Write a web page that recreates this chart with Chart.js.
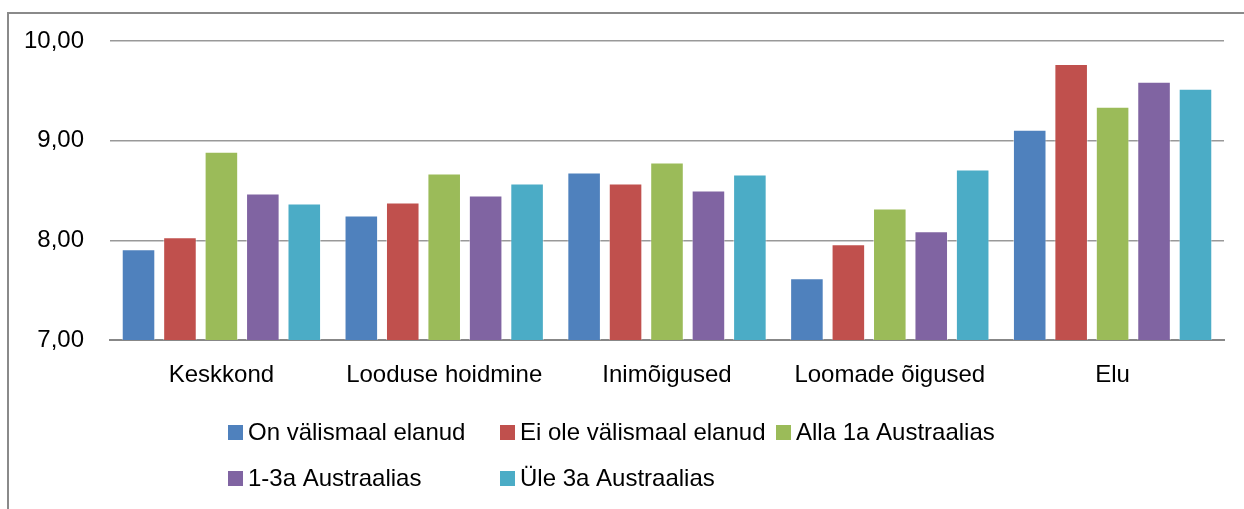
<!DOCTYPE html>
<html>
<head>
<meta charset="utf-8">
<style>
  html, body { margin: 0; padding: 0; background: #fff; }
  #wrap { position: relative; width: 1244px; height: 509px; }
</style>
<script src="https://cdn.jsdelivr.net/npm/chart.js@4.4.1/dist/chart.umd.min.js"></script>
</head>
<body>
<div id="wrap"><canvas id="chart" width="1244" height="509"></canvas></div>
<script>
'use strict';

// ─── Data ─────────────────────────────────────────────────────────────────────
const categories = ['Keskkond', 'Looduse hoidmine', 'Inimõigused', 'Loomade õigused', 'Elu'];
const seriesNames = ['On välismaal elanud', 'Ei ole välismaal elanud', 'Alla 1a Austraalias', '1-3a Austraalias', 'Üle 3a Austraalias'];
const onValismaal = [7.91, 8.25, 8.68, 7.62, 9.11];
const eiOleValismaal = [8.03, 8.38, 8.57, 7.96, 9.77];
const alla1a = [8.89, 8.67, 8.78, 8.32, 9.34];
const aasta1to3 = [8.47, 8.45, 8.50, 8.09, 9.59];
const ule3a = [8.37, 8.57, 8.66, 8.71, 9.52];
const yTicks = [7, 8, 9, 10];

const colors = ['#4F81BD', '#C0504D', '#9BBB59', '#8064A2', '#4BACC6'];
const FONT = '"Liberation Sans", Arial, sans-serif';

// ─── Plugins ──────────────────────────────────────────────────────────────────
const frame = {
  id: 'frame',
  beforeDraw(chart) {
    const ctx = chart.ctx;
    ctx.save();
    ctx.strokeStyle = '#8a8a8a';
    ctx.lineWidth = 2;
    ctx.strokeRect(8, 13, chart.width + 20, chart.height + 20);
    ctx.restore();
  },
};

// Excel-style legend: items laid out in fixed columns
const gridLegend = {
  id: 'gridLegend',
  afterDraw(chart) {
    const ctx = chart.ctx;
    const cols = [228, 500, 776];
    const rows = [432, 478];
    ctx.save();
    ctx.font = `24px ${FONT}`;
    ctx.textBaseline = 'middle';
    chart.data.datasets.forEach((ds, i) => {
      const x = cols[i % 3];
      const y = rows[Math.floor(i / 3)];
      ctx.fillStyle = ds.backgroundColor;
      ctx.fillRect(x, y - 7, 15, 15);
      ctx.fillStyle = '#000';
      ctx.fillText(ds.label, x + 20, y + 1);
    });
    ctx.restore();
  },
};

// ─── Chart ────────────────────────────────────────────────────────────────────
const seriesValues = [onValismaal, eiOleValismaal, alla1a, aasta1to3, ule3a];

new Chart(document.getElementById('chart'), {
  type: 'bar',
  data: {
    labels: categories,
    datasets: seriesValues.map((vals, i) => ({
      label: seriesNames[i],
      data: vals,
      backgroundColor: colors[i],
      borderColor: 'rgba(255,255,255,0.45)',
      borderWidth: 1,
      borderSkipped: 'bottom',
      categoryPercentage: 0.93,
      barPercentage: 0.81,
    })),
  },
  options: {
    responsive: false,
    animation: false,
    layout: { padding: { left: 0, right: 20, top: 41, bottom: 109 } },
    plugins: {
      legend: { display: false },
      tooltip: { enabled: false },
    },
    scales: {
      x: {
        grid: { display: false },
        border: { display: true, color: '#878787', width: 2 },
        ticks: { color: '#000', font: { family: FONT, size: 24 }, padding: 13, maxRotation: 0 },
        afterFit(scale) { scale.height = 60; },
      },
      y: {
        min: 7,
        max: 10,
        afterBuildTicks(scale) { scale.ticks = yTicks.map(v => ({ value: v })); },
        grid: { color: '#999999', lineWidth: 1.5, drawTicks: false },
        border: { display: false },
        ticks: {
          color: '#000',
          font: { family: FONT, size: 24 },
          padding: 26,
          callback: v => v.toFixed(2).replace('.', ','),
        },
        afterFit(scale) { scale.width = 110; },
      },
    },
  },
  plugins: [frame, gridLegend],
});
</script>
</body>
</html>
